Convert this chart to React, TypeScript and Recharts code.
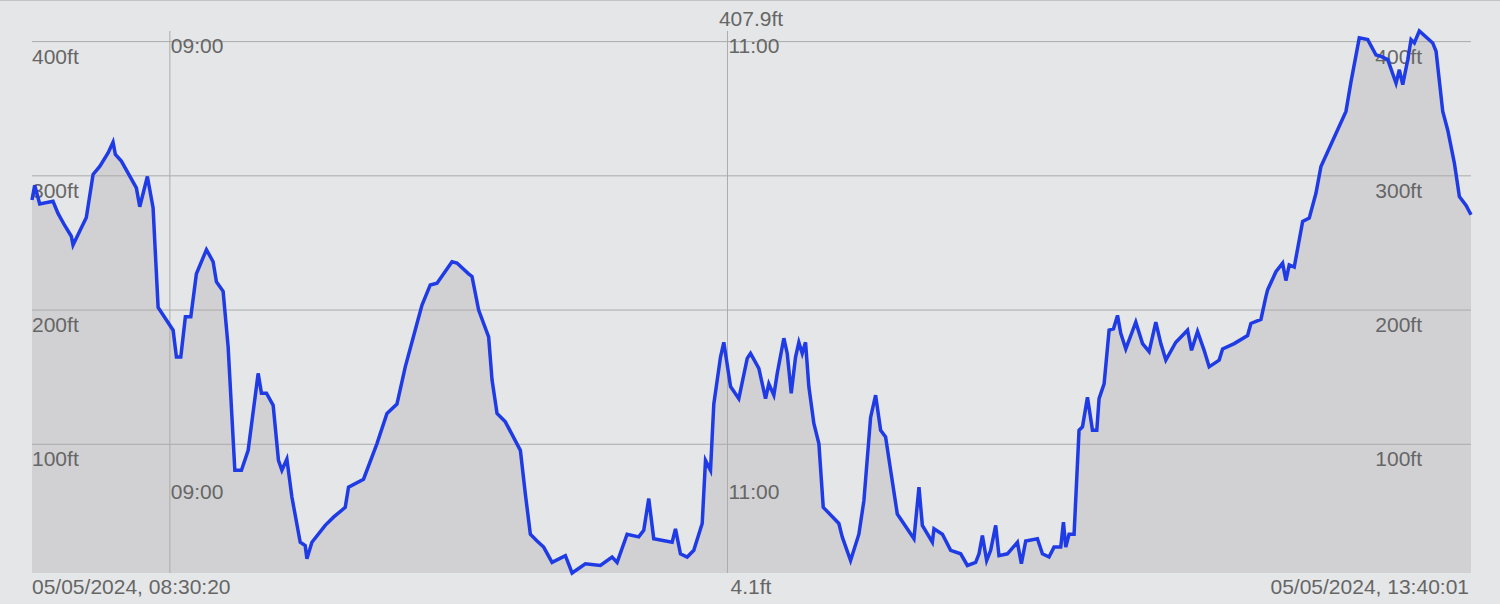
import { ComposedChart, Area, Line, XAxis, YAxis, ReferenceLine, Customized } from 'recharts';

// elevation track, 05/05/2024 08:30:20 -> 13:40:01
const startLabel = '05/05/2024, 08:30:20';
const endLabel = '05/05/2024, 13:40:01';
const totalMinutes = 309.68;

// minutes since start
const minutes = [
  0, 0.58, 1.66, 4.52, 5.6, 7.04, 8.46, 8.83, 11.69, 13.14, 14.58, 16.37, 17.44, 17.94, 19.23,
  22.46, 23.19, 24.83, 26.06, 27.14, 30.37, 31.08, 32.02, 33.01, 34.18, 35.38, 37.54, 38.98, 39.69,
  41.13, 42.21, 43.65, 45.07, 46.52, 48.67, 49.38, 50.46, 51.9, 53.04, 53.78, 54.85, 55.93, 57.72,
  58.79, 59.16, 60.24, 63.1, 64.89, 67.41, 68.12, 71.35, 74.24, 76.39, 78.54, 80.33, 82.85, 83.93,
  85.71, 87.16, 90.39, 91.46, 93.96, 94.69, 96.12, 98.27, 99.0, 100.08, 101.87, 105.1, 106.17,
  107.25, 108.69, 110.11, 111.92, 114.79, 116.23, 119.09, 122.32, 124.84, 125.92, 128.07, 130.57,
  131.65, 132.73, 133.8, 137.76, 138.48, 139.55, 141.0, 142.42, 144.23, 144.94, 146.02, 146.73,
  148.17, 148.88, 150.33, 152.11, 153.92, 154.63, 156.42, 157.86, 158.57, 159.65, 160.38, 161.8,
  162.53, 163.39, 164.32, 165.03, 165.76, 166.47, 167.18, 168.26, 169.34, 170.28, 173.64, 174.37,
  176.16, 177.95, 179.03, 180.47, 181.55, 182.63, 183.7, 184.78, 186.22, 189.8, 190.88, 191.61,
  193.76, 194.11, 195.92, 197.7, 199.86, 201.3, 203.08, 203.8, 204.53, 205.45, 206.31, 207.39,
  208.1, 209.91, 212.06, 212.92, 213.85, 216.37, 217.45, 218.87, 219.95, 221.39, 221.97, 222.47,
  223.18, 224.26, 225.33, 226.07, 227.14, 228.22, 229.15, 229.64, 230.72, 231.8, 232.75, 233.61,
  234.31, 235.39, 237.54, 238.99, 240.41, 241.85, 242.93, 244.01, 246.16, 248.68, 249.54, 250.83,
  252.25, 253.33, 255.48, 256.22, 258.72, 261.6, 262.31, 264.47, 265.54, 265.91, 267.7, 269.14,
  269.85, 270.56, 271.64, 273.45, 274.87, 276.31, 277.39, 282.77, 283.85, 285.64, 287.45, 289.24,
  290.32, 291.76, 293.55, 294.26, 294.99, 296.07, 296.78, 297.49, 298.56, 301.44, 302.16, 303.6,
  304.68, 306.1, 307.18, 308.62, 309.68,
];

// feet
const elevation = [
  282, 293, 279, 281, 272, 263, 255, 248.5, 269, 301, 307, 317, 325, 316, 311,
  291, 277, 299.5, 276, 202, 185, 165, 165, 195, 195, 227, 245, 236, 221,
  214, 172.6, 80.6, 80.6, 95.5, 152.8, 138, 138, 129, 88, 80.6, 89, 60.7, 27,
  24.6, 14.7, 27, 39.6, 45.7, 53, 68, 74, 100.5, 123, 130, 157.7, 190, 203.7,
  218.7, 220, 236, 235, 227, 225, 200, 180, 148, 123, 116.7, 95.5, 63,
  33, 28, 23.4, 12, 17, 4.1, 11, 9.7, 16, 12, 33, 31,
  36, 59.5, 29.6, 27, 37, 18.4, 16, 21, 41, 88, 80.6, 130,
  165, 176, 143, 134, 164, 167.7, 156.5, 134, 145, 136.6, 152.8, 179,
  167.7, 138, 165, 176, 167.7, 176, 143, 115.5, 100.5, 53, 41, 31,
  13.4, 33, 58, 120, 136.6, 110.4, 105.5, 80.6, 48, 29.6, 68, 39.6,
  27, 37, 33, 21, 18.4, 9.7, 12, 18.4, 32, 13.4, 21, 39.6,
  17, 18.4, 27, 11, 28, 29.6, 18.4, 16, 23.4, 23.4, 42, 23.4,
  33, 33, 110.4, 113, 135, 110.4, 110.4, 134, 145, 185, 186, 196,
  182.6, 171, 191, 175, 169, 191, 175, 162.7, 176, 185, 170, 184,
  170, 157.7, 162.7, 171, 175, 181, 190, 193, 210, 215, 228.6, 235,
  222, 233.6, 232, 266, 268.5, 287, 307, 348, 370, 402.8, 401.5, 390,
  389, 386.6, 369, 379, 368, 386.6, 401.5, 399, 407.9, 399, 392.8, 348,
  334, 309.5, 284.6, 278, 271,
];

const gridFeet = [100, 200, 300, 400];
const hourLabels = ['09:00', '11:00'];
const hourMinutes = [29.67, 149.67];

const data = minutes.map((t, i) => ({ t, elev: elevation[i] }));
const maxElev = Math.max(...elevation);
const minElev = Math.min(...elevation);

const FONT = '"Liberation Sans", Arial, Helvetica, sans-serif';
const TEXT = '#666666';
const GRID = '#ababab';
const FS = 21;

const FeetLabel = ({ viewBox, value }: any) => {
  const { x, y, width } = viewBox;
  return (
    <g fontFamily={FONT} fontSize={FS} fill={TEXT}>
      <text x={x} y={y + 22}>{value}ft</text>
      <text x={x + width - 49} y={y + 22} textAnchor="end">{value}ft</text>
    </g>
  );
};

const HourLabel = ({ viewBox, value }: any) => {
  const { x, y } = viewBox;
  return (
    <g fontFamily={FONT} fontSize={FS} fill={TEXT}>
      <text x={x + 1} y={y + 22}>{value}</text>
      <text x={x + 1} y={y + 468}>{value}</text>
    </g>
  );
};

const EdgeLabels = () => (
  <g fontFamily={FONT} fontSize={FS} fill={TEXT}>
    <text x={751} y={26} textAnchor="middle">{maxElev.toFixed(1)}ft</text>
    <text x={751} y={594} textAnchor="middle">{minElev.toFixed(1)}ft</text>
    <text x={32} y={594}>{startLabel}</text>
    <text x={1469} y={594} textAnchor="end">{endLabel}</text>
  </g>
);

export default function App() {
  return (
    <div style={{ position: 'absolute', left: 0, top: 0, width: 1500, height: 604, background: '#e5e6e8' }}>
      <div style={{ position: 'absolute', left: 0, top: 0, width: 1500, height: 1, background: '#c4c4c6' }} />
      <ComposedChart
        width={1500}
        height={604}
        data={data}
        margin={{ top: 31, right: 29, bottom: 31, left: 32 }}
      >
        <XAxis dataKey="t" type="number" domain={[0, totalMinutes]} hide />
        <YAxis type="number" domain={[minElev, maxElev]} hide />
        <Area
          type="linear"
          dataKey="elev"
          stroke="#9c9c9e"
          strokeWidth={1.5}
          fill="#d1d1d3"
          fillOpacity={1}
          isAnimationActive={false}
        />
        {gridFeet.map((f) => (
          <ReferenceLine key={f} y={f} stroke={GRID} strokeWidth={1} label={<FeetLabel value={f} />} />
        ))}
        {hourMinutes.map((m, i) => (
          <ReferenceLine key={m} x={m} stroke={GRID} strokeWidth={1} label={<HourLabel value={hourLabels[i]} />} />
        ))}
        <Line
          type="linear"
          dataKey="elev"
          stroke="#1f3be6"
          strokeWidth={3.5}
          dot={false}
          isAnimationActive={false}
        />
        <Customized component={<EdgeLabels />} />
      </ComposedChart>
    </div>
  );
}
